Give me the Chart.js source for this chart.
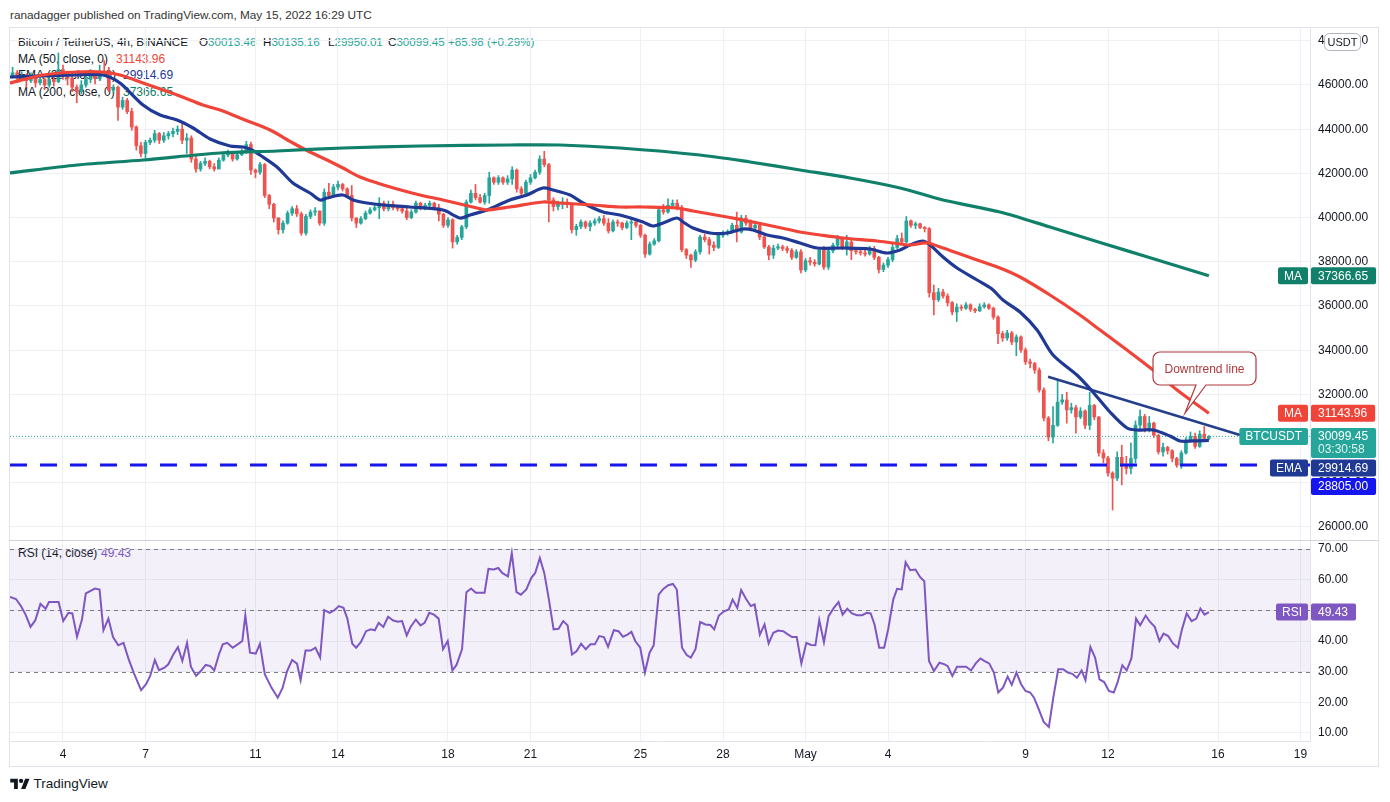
<!DOCTYPE html>
<html>
<head>
<meta charset="utf-8">
<script src="https://cdn.jsdelivr.net/npm/chart.js@4.4.1/dist/chart.umd.min.js"></script>
<style>
  body { margin: 0; width: 1390px; height: 802px; overflow: hidden; background: #fff;
         font-family: 'Liberation Sans', Arial, sans-serif; color: #131722; }
  .t { position: absolute; white-space: nowrap; font-size: 12px; line-height: 14px; }
  .s { font-size: 11.6px; }
  .up { color: #26a69a; }
  #frame { position: absolute; left: 9px; top: 27px; width: 1370px; height: 740px;
           border: 1px solid #e0e3eb; box-sizing: border-box; }
  #sep { position: absolute; left: 9px; top: 540px; width: 1370px; height: 1px; background: #d1d4dc; }
  canvas { position: absolute; }
  #price { left: 10px; top: 28px; }
  #rsi { left: 10px; top: 541px; }
</style>
</head>
<body>
<div class="t" style="left:10px;top:7px;font-size:11.8px;line-height:16px;color:#333">ranadagger published on TradingView.com, May 15, 2022 16:29 UTC</div>
<div id="frame"></div>
<div id="sep"></div>

<div class="t s" style="left:18px;top:35px">Bitcoin / TetherUS, 4h, BINANCE</div>
<div class="t s" style="left:199px;top:35px">O<span class="up">30013.46</span></div>
<div class="t s" style="left:263px;top:35px">H<span class="up">30135.16</span></div>
<div class="t s" style="left:328px;top:35px">L<span class="up">29950.01</span></div>
<div class="t s" style="left:388px;top:35px">C<span class="up">30099.45</span> <span class="up">+85.98 (+0.29%)</span></div>
<div class="t" style="left:18px;top:52px">MA (50, close, 0)</div>
<div class="t" style="left:116px;top:52px;color:#f04438">31143.96</div>
<div class="t" style="left:18px;top:68px">EMA (20, close, 0)</div>
<div class="t" style="left:123px;top:68px;color:#1f3995">29914.69</div>
<div class="t" style="left:18px;top:85px">MA (200, close, 0)</div>
<div class="t" style="left:123px;top:85px;color:#11806a">37366.65</div>
<div class="t" style="left:18px;top:546px">RSI (14, close)</div>
<div class="t" style="left:101px;top:546px;color:#7e57c2">49.43</div>

<canvas id="price" width="1368" height="512"></canvas>
<canvas id="rsi" width="1368" height="225"></canvas>

<div class="t" style="left:10px;top:776px;font-size:13.5px;line-height:16px">
  <svg width="20" height="13" viewBox="0 0 36 24" style="vertical-align:-2px"><path d="M14 22H7V10H0V3h14v19zM28 22h-8l7.5-19h8L28 22z" fill="#131722"/><circle cx="20" cy="7" r="4" fill="#131722"/></svg>
  TradingView
</div>

<script>
// 4h candles, first one Apr 2 00:00, six per day. Day numbers count April days (May 1 = 31).
const firstCandleDay = 2;
const firstOpen = 46300;

const closes = [
  46400, 46550, 46300, 46450, 46200, 46350, 46100, 46250, 46000, 46250,
  46150, 46700, 46500, 46300, 45900, 45700, 46000, 46250, 46450, 46300,
  46600, 46550, 45770, 45900, 45000, 45300, 44800, 44100, 43250, 42900,
  43400, 43500, 43800, 43500, 43700, 43800, 43900, 44000, 43500, 43600,
  42650, 42200, 42450, 42550, 42300, 42200, 42600, 42830, 42950, 42650,
  42850, 42980, 43300, 42150, 42050, 42400, 41000, 40600, 39980, 39450,
  39750, 40200, 40400, 40170, 39300, 40050, 40250, 40300, 39750, 41150,
  41000, 41380, 41500, 41300, 41000, 39980, 39750, 39950, 40200, 40350,
  40450, 40650, 40400, 40600, 40450, 40400, 40300, 40000, 40250, 40650,
  40450, 40550, 40650, 40450, 40150, 39650, 39900, 38900, 39100, 39580,
  40700, 41100, 40900, 40700, 41000, 41800, 41600, 41800, 41600, 41750,
  42150, 41300, 41100, 41600, 41800, 42050, 42650, 42400, 40800, 40500,
  40600, 40700, 40600, 39450, 39600, 39800, 39600, 39750, 39850, 39950,
  39750, 39400, 39800, 39750, 39550, 39750, 39800, 39650, 39200, 38350,
  38800, 38950, 40350, 40250, 40550, 40650, 40450, 38550, 38300, 38080,
  38450, 39120, 39000, 38750, 38650, 39200, 39300, 39350, 39650, 39350,
  39980, 39750, 39530, 39650, 39120, 38670, 38300, 38620, 38680, 38600,
  38520, 38200, 38450, 37630, 38050, 37980, 37900, 38530, 37760, 38500,
  38750, 39050, 38650, 38900, 38500, 38450, 38400, 38350, 38600, 38200,
  37650, 37850, 38100, 38650, 39050, 38900, 39850, 39650, 39720, 39550,
  39500, 36600, 36280, 36630, 36450, 36150, 35730, 35950, 35900, 36050,
  35850, 35780, 35970, 36050, 35900, 35500, 34750, 34550, 34780, 34370,
  34600, 34010, 33470, 33400, 33100, 32200, 30930, 30070, 30600, 31650,
  31750, 31300, 31400, 30980, 31250, 30600, 31500, 30980, 29350, 29120,
  28440, 28210, 29150, 28750, 28650, 29100, 30610, 31000, 30500, 30700,
  30150, 29400, 29600, 29450, 29100, 28800, 29350, 29930, 30100, 29650,
  30200, 30013.46, 30099.45
];
const highs = [
  46700, 46800, 46650, 46600, 46500, 46550, 46400, 46450, 46300, 46400,
  46350, 47450, 46900, 46600, 46350, 46000, 46200, 46500, 46700, 46600,
  46900, 47100, 46800, 46000, 45950, 45450, 45400, 44950, 44150, 43400,
  43500, 43600, 43950, 43850, 43850, 43900, 44050, 44150, 44250, 43800,
  43700, 42800, 42550, 42700, 42600, 42450, 42700, 42950, 43050, 43000,
  42950, 43100, 43450, 43420, 42200, 42500, 42450, 41050, 40650, 40000,
  39850, 40300, 40500, 40550, 40250, 40150, 40350, 40450, 40300, 41300,
  41550, 41500, 41650, 41550, 41350, 41450, 40000, 40050, 40300, 40450,
  40550, 40900, 40750, 40750, 40750, 40550, 40500, 40450, 40350, 40750,
  40700, 40650, 40750, 40700, 40600, 40200, 40000, 39950, 39200, 39650,
  40800, 41250, 41500, 41050, 41100, 42050, 41850, 41900, 41850, 41900,
  42300, 42200, 41400, 41700, 41950, 42150, 42800, 43000, 42450, 40900,
  40750, 40900, 40850, 40650, 39700, 39900, 39850, 39850, 39950, 40050,
  40100, 39950, 39900, 39900, 39800, 39850, 40000, 39850, 39700, 39250,
  38900, 39050, 40500, 40600, 40850, 40800, 40800, 40550, 38600, 38350,
  38550, 39200, 39250, 39100, 38900, 39300, 39400, 39450, 39750, 40250,
  40100, 40100, 39900, 39800, 39750, 39200, 38750, 38750, 38800, 38750,
  38700, 38600, 38550, 38550, 38150, 38200, 38100, 38650, 38700, 38650,
  38850, 39200, 39100, 39200, 39000, 38650, 38600, 38600, 38700, 38700,
  38250, 37950, 38200, 38800, 39200, 39300, 40050, 39900, 39800, 39750,
  39600, 39550, 36950, 36800, 36750, 36550, 36200, 36100, 36050, 36150,
  36100, 35900, 36100, 36150, 36100, 35950, 35550, 34850, 34900, 34850,
  34700, 34650, 34100, 33600, 33450, 33200, 32300, 31000, 31450, 32650,
  32000, 32100, 31600, 31500, 31400, 31300, 32100, 31550, 31000, 29500,
  29200, 28500, 29400, 29700, 29200, 29800, 30800, 31300, 31100, 31000,
  30750, 30200, 29800, 29650, 29500, 29150, 29450, 30050, 30300, 30250,
  30350, 30550, 30135.16
];
const lows = [
  46200, 46300, 46100, 46200, 45900, 46100, 45900, 46000, 45800, 45900,
  45950, 46100, 46250, 46000, 45700, 45200, 45600, 45900, 46100, 46050,
  46200, 46400, 45700, 45650, 44400, 44900, 44700, 43950, 43050, 42750,
  42700, 43300, 43400, 43350, 43400, 43550, 43650, 43750, 43350, 42900,
  42500, 42050, 42100, 42350, 42200, 42100, 42200, 42550, 42750, 42550,
  42600, 42800, 42900, 41950, 41800, 41950, 40900, 40400, 39800, 39250,
  39300, 39700, 40100, 40050, 39200, 39200, 39950, 40100, 39650, 39650,
  40900, 40900, 41250, 41200, 40900, 39850, 39550, 39700, 39900, 40150,
  40300, 39950, 40300, 40300, 40350, 40300, 40200, 39900, 39950, 40200,
  40350, 40350, 40450, 40350, 39850, 39550, 39550, 38620, 38800, 39000,
  39500, 40650, 40800, 40650, 40600, 40650, 41500, 41500, 41500, 41500,
  41500, 41150, 40950, 41000, 41500, 41750, 41950, 42300, 39800, 40300,
  40350, 40400, 40450, 39300, 39200, 39500, 39500, 39400, 39650, 39750,
  39650, 39300, 39350, 39600, 39450, 39500, 39000, 39550, 39100, 38200,
  38300, 38750, 38900, 40150, 40200, 40450, 40350, 38450, 38150, 37750,
  38000, 38350, 38900, 38350, 38500, 38600, 39100, 39200, 39300, 38900,
  39300, 39650, 39400, 39450, 39000, 38600, 38100, 38150, 38550, 38500,
  38400, 38100, 38150, 37500, 37550, 37850, 37800, 37850, 37650, 37650,
  38400, 38600, 38550, 38300, 38100, 38350, 38300, 38250, 38300, 38100,
  37500, 37550, 37750, 38000, 38600, 38800, 38850, 39550, 39500, 39500,
  39350, 36400, 35600, 36200, 36350, 36000, 35600, 35300, 35800, 35850,
  35750, 35700, 35750, 35900, 35850, 35400, 34300, 34400, 34450, 34250,
  33750, 33900, 33350, 33200, 32950, 32100, 30800, 29900, 29800, 30550,
  31550, 30700, 31150, 30250, 30900, 30450, 30400, 30850, 29200, 28900,
  28300, 26770, 28100, 27900, 28400, 28400, 28900, 30400, 30300, 30300,
  30050, 29300, 29200, 29300, 28950, 28700, 28650, 29300, 29850, 29550,
  29600, 29900, 29950.01
];

// moving averages (day, value)
const ema20Days = [2.07, 4.51, 5.45, 6.07, 6.91, 7.53, 8.15, 8.73, 9.35, 10.07, 10.55, 10.87, 11.16, 11.78,
  12.36, 12.98, 13.35, 13.6, 14.18, 14.55, 15.05, 15.64, 16.62, 17.82, 18.44, 18.8, 19.42, 20.25, 20.87,
  21.45, 21.82, 22.44, 22.91, 23.64, 24.25, 25.09, 25.45, 25.82, 26.33, 26.55, 26.91, 27.53, 28.15, 28.73,
  29.09, 29.6, 30.18, 30.8, 31.42, 32.36, 33.35, 33.96, 34.44, 34.8, 35.27, 35.53, 36, 36.51, 37.24, 37.78,
  38.18, 38.8, 39.42, 40, 40.87, 41.45, 42.07, 42.69, 43.05, 43.64, 44.25, 44.62, 45.09, 45.667];
const ema20 = [46362, 46452, 46452, 46090, 45095, 44642, 44416, 44054, 43556, 43240, 43195, 43059, 42833, 42290,
  41566, 41113, 40796, 40887, 41023, 40796, 40660, 40570, 40480, 40344, 39982, 40118, 40344, 40796, 41023,
  41339, 41249, 41023, 40660, 40253, 40118, 39801, 39620, 39756, 39982, 39801, 39529, 39303, 39303, 39484,
  39439, 39213, 39077, 38851, 38624, 38624, 38579, 38398, 38534, 38760, 38941, 38760, 38217, 37719, 37176, 36769,
  36271, 35728, 34914, 33782, 32877, 32108, 31203, 30479, 30389, 30389, 30118, 29892, 29892, 29914.69];

const ma50Days = [2.07, 3.27, 4.51, 5.45, 6.07, 6.91, 8.15, 9.09, 9.71, 10.62, 11.53, 12.36, 12.98, 13.6, 14.18,
  14.8, 15.42, 16.15, 16.98, 17.82, 19.05, 19.42, 20.25, 21.45, 22.07, 23.27, 24.25, 25.09, 26.33, 26.91,
  28.15, 29.09, 29.96, 30.8, 31.53, 32.36, 33.6, 34.18, 34.8, 35.42, 36, 37.24, 38.07, 38.8, 39.89, 40.98,
  41.71, 42.69, 43.64, 44.51, 45.667];
const ma50 = [46090, 46452, 46588, 46588, 46452, 46090, 45548, 45095, 44869, 44416, 43964, 43376, 42968, 42606, 42244,
  41837, 41566, 41294, 41023, 40796, 40434, 40344, 40480, 40706, 40660, 40570, 40480, 40480, 40434, 40299,
  40027, 39801, 39574, 39348, 39213, 39077, 38941, 38851, 38760, 38851, 38624, 38081, 37719, 37312, 36498, 35593,
  34914, 34009, 33104, 32199, 31143.96];

const ma200Days = [2.07, 4.51, 6.91, 9.71, 11.78, 14.18, 16.98, 20.25, 22.07, 24.25, 27.16, 28.98, 30.8, 32.62,
  34.44, 36, 38.07, 39.89, 41.71, 43.53, 45.667];
const ma200 = [42018, 42380, 42606, 42923, 43014, 43149, 43240, 43285, 43285, 43149, 42833, 42516, 42154, 41792,
  41339, 40796, 40253, 39575, 38873, 38181, 37366.65];

const trendDays = [39.82, 46.8];
const trendPrices = [32800, 30162];
const supportLevel = 28805;
const lastPrice = 30099.45;

const rsiDays = [2.07, 2.29, 2.47, 2.64, 2.82, 2.99, 3.18, 3.37, 3.49, 3.66, 3.84, 4.01, 4.2, 4.34, 4.51, 4.69,
  4.83, 5.16, 5.33, 5.47, 5.65, 5.82, 6.01, 6.2, 6.39, 6.57, 6.84, 7.02, 7.17, 7.34, 7.49, 7.69, 7.83, 8.01,
  8.18, 8.34, 8.51, 8.65, 8.84, 9.01, 9.19, 9.36, 9.5, 9.67, 9.81, 9.97, 10.17, 10.35, 10.52, 10.63, 10.8,
  11.01, 11.16, 11.34, 11.58, 11.81, 11.98, 12.15, 12.33, 12.51, 12.64, 12.82, 13.01, 13.18, 13.35, 13.5,
  13.7, 13.88, 14.03, 14.2, 14.34, 14.52, 14.66, 14.83, 15.02, 15.19, 15.34, 15.48, 15.65, 15.82, 16.01,
  16.18, 16.33, 16.5, 16.64, 16.83, 17.0, 17.15, 17.32, 17.49, 17.66, 17.82, 17.99, 18.16, 18.31, 18.51,
  18.67, 18.84, 19.01, 19.33, 19.47, 19.66, 19.83, 19.97, 20.18, 20.32, 20.49, 20.65, 20.85, 21.03, 21.17,
  21.34, 21.5, 21.67, 21.84, 22.02, 22.19, 22.35, 22.51, 22.68, 22.84, 23.01, 23.18, 23.34, 23.5, 23.67, 23.82,
  24.03, 24.2, 24.36, 24.53, 24.67, 24.81, 24.99, 25.16, 25.33, 25.48, 25.66, 25.83, 26.01, 26.18, 26.32,
  26.51, 26.68, 26.83, 27.0, 27.17, 27.36, 27.54, 27.68, 27.85, 28.04, 28.21, 28.35, 28.52, 28.66, 28.84,
  29.01, 29.15, 29.34, 29.51, 29.66, 29.83, 30.0, 30.19, 30.37, 30.51, 30.68, 30.85, 31.03, 31.2, 31.36,
  31.5, 31.67, 31.84, 32.03, 32.2, 32.35, 32.52, 32.69, 32.87, 33.06, 33.23, 33.37, 33.51, 33.68, 33.86,
  34.01, 34.19, 34.33, 34.5, 34.64, 34.81, 35.0, 35.17, 35.32, 35.49, 35.67, 35.87, 36.06, 36.17, 36.34,
  36.51, 36.69, 36.84, 37.02, 37.19, 37.36, 37.5, 37.68, 37.85, 38.01, 38.18, 38.35, 38.5, 38.67, 38.84,
  39.0, 39.17, 39.31, 39.48, 39.66, 39.85, 40.02, 40.19, 40.37, 40.54, 40.7, 40.87, 41.04, 41.18, 41.36,
  41.53, 41.69, 41.86, 42.03, 42.21, 42.35, 42.52, 42.68, 42.85, 43.02, 43.17, 43.37, 43.53, 43.7, 43.87,
  44.02, 44.19, 44.36, 44.54, 44.69, 44.86, 45.04, 45.21, 45.36, 45.51, 45.67];
const rsiValues = [54.4, 53.7, 51.4, 48.6, 44.6, 46.7, 52.1, 50.5, 52.7, 52.7, 52.7, 46.5, 49.2, 49.0, 41.4, 47.0,
  55.5, 57.1, 56.8, 43.5, 47.3, 41.3, 38.6, 39.4, 34.0, 29.7, 24.0, 25.9, 28.6, 33.8, 30.5, 31.3, 32.4, 35.6,
  38.0, 33.5, 39.4, 31.6, 28.6, 30.2, 32.2, 31.8, 30.4, 35.6, 38.9, 39.4, 37.8, 38.9, 40.0, 48.4, 36.2,
  35.9, 39.1, 29.1, 24.8, 21.5, 24.6, 30.2, 33.8, 32.6, 27.2, 36.9, 36.9, 37.8, 34.6, 50.1,
  49.2, 50.1, 51.4, 50.8, 47.3, 39.1, 37.8, 39.6, 43.2, 43.8, 43.5, 45.9, 44.6, 47.9, 46.7,
  46.3, 46.5, 41.8, 44.6, 47.0, 45.1, 45.9, 49.2, 48.6, 47.3, 37.3, 40.0, 30.4, 32.2, 37.3,
  55.9, 57.1, 55.7, 55.7, 63.5, 63.3, 63.8, 62.2, 61.1, 68.7, 55.9, 55.1, 56.8, 60.6, 62.2,
  67.1, 62.2, 53.5, 43.8, 44.0, 46.5, 45.1, 35.6, 36.7, 39.1, 37.3, 38.9, 38.9, 41.6, 41.3, 38.1,
  43.5, 43.2, 41.4, 42.1, 43.0, 40.0, 37.8, 29.7, 36.2, 38.6, 55.1, 57.0, 58.2, 58.6, 56.8,
  37.8, 35.4, 34.6, 37.3, 46.2, 45.4, 45.2, 43.8, 48.3, 49.7, 50.3, 53.5, 50.8, 56.6, 53.7,
  51.4, 51.9, 42.1, 45.4, 39.2, 42.7, 43.4, 43.2, 42.1, 41.3, 41.3, 32.7, 39.4, 38.7, 38.6,
  46.8, 39.6, 48.1, 50.8, 52.7, 48.6, 50.5, 49.0, 48.4, 48.4, 49.2, 49.0, 45.4, 37.8, 37.8,
  44.0, 53.5, 57.0, 56.8, 65.7, 63.1, 63.3, 60.8, 59.5, 33.5, 30.2, 32.9, 32.4, 31.8, 28.6,
  31.6, 31.6, 31.6, 30.4, 32.7, 34.3, 33.5, 32.7, 29.7, 23.2, 24.8, 28.4, 25.7, 29.7, 25.9,
  23.7, 23.2, 21.5, 17.8, 13.6, 12.0, 22.1, 30.8, 30.8, 29.7, 29.3, 28.0, 30.4, 27.2, 38.0,
  34.6, 27.5, 26.6, 23.7, 23.2, 26.6, 32.1, 30.4, 34.3, 47.3, 45.1, 48.3, 46.2, 44.6, 40.0,
  42.4, 41.6, 39.2, 37.8, 43.8, 49.0, 46.5, 47.3, 50.6, 48.6, 49.43];

const priceTicks = [26000, 28000, 30000, 32000, 34000, 36000, 38000, 40000, 42000, 44000, 46000, 48000];
const rsiTicks = [10, 20, 30, 40, 50, 60, 70];
const dayTicks = [4, 7, 11, 14, 18, 21, 25, 28, 31, 34, 39, 42, 46, 49];
const dayLabels = ['4', '7', '11', '14', '18', '21', '25', '28', 'May', '4', '9', '12', '16', '19'];

const font = "'Liberation Sans', Arial, sans-serif";
const up = '#26a69a', down = '#ef5350';
const emaColor = '#1f3995', ma50Color = '#f04438', ma200Color = '#11806a';
const supportColor = '#1515ee', rsiColor = '#7e57c2';
const gridColor = '#eef0f4', lineColor = '#e0e3eb';

Chart.defaults.font.family = font;
Chart.defaults.font.size = 12;
Chart.defaults.color = '#131722';

const opens = closes.map((c, i) => i === 0 ? firstOpen : closes[i - 1]);
const candleDays = closes.map((c, i) => firstCandleDay + i / 6);
const candleColors = closes.map((c, i) => c >= opens[i] ? up : down);

function last(arr) { return arr[arr.length - 1]; }

function dayAxis(showLabels) {
  return {
    type: 'linear', min: 2.073, max: 49.345, offset: false,
    afterBuildTicks: s => { s.ticks = dayTicks.map(v => ({ value: v })); },
    grid: { color: gridColor, drawTicks: false, offset: false },
    border: { display: showLabels, color: lineColor },
    ticks: { display: showLabels, padding: 6, autoSkip: false, maxRotation: 0,
             callback: (v, i) => dayLabels[i] },
    afterFit: s => { s.height = showLabels ? 25 : 0; s.paddingLeft = 0; s.paddingRight = 0; }
  };
}

function valueAxis(min, max, ticks) {
  return {
    position: 'right', min, max,
    afterBuildTicks: s => { s.ticks = ticks.map(v => ({ value: v })); },
    grid: { color: gridColor, drawTicks: false },
    border: { display: true, color: lineColor },
    ticks: { padding: 8, callback: v => v.toFixed(2) },
    afterFit: s => { s.width = 68; s.paddingTop = 0; s.paddingBottom = 0; }
  };
}

function lineSet(days, vals, color, width, extra) {
  return Object.assign({
    type: 'line', data: days.map((d, i) => ({ x: d, y: vals[i] })),
    borderColor: color, borderWidth: width, pointRadius: 0, tension: 0.3, fill: false, order: 1
  }, extra || {});
}

function box(ctx, x, y, w, h, r) {
  ctx.beginPath();
  ctx.roundRect(x, y, w, h, r);
}

function drawTags(chart, tags) {
  const { ctx, chartArea } = chart;
  const yScale = chart.scales.y;
  ctx.save();
  ctx.font = '12px ' + font;
  ctx.textBaseline = 'middle';
  let prevBottom = -Infinity;
  tags.slice().sort((a, b) => b.value - a.value).forEach(tag => {
    const h = tag.sub ? 30 : 17;
    let top = yScale.getPixelForValue(tag.value) - 8.5;
    if (top < prevBottom + 1.5) top = prevBottom + 1.5;
    prevBottom = top + h;
    const text = tag.value.toFixed(2);
    const vw = ctx.measureText(text).width + 15;
    const x0 = chartArea.right + 1;
    ctx.fillStyle = tag.color;
    box(ctx, x0, top, vw, h, 2); ctx.fill();
    ctx.fillStyle = '#fff'; ctx.textAlign = 'left';
    ctx.fillText(text, x0 + 7, top + 9);
    if (tag.sub) {
      ctx.fillStyle = 'rgba(255,255,255,0.85)';
      ctx.fillText(tag.sub, x0 + 7, top + 22);
    }
    if (tag.label) {
      const lw = ctx.measureText(tag.label).width + 12;
      const lx = chartArea.right - 2 - lw;
      ctx.fillStyle = tag.color;
      box(ctx, lx, top, lw, 17, 2); ctx.fill();
      ctx.fillStyle = '#fff'; ctx.textAlign = 'center';
      ctx.fillText(tag.label, lx + lw / 2, top + 9);
    }
  });
  ctx.restore();
}

const priceTags = [
  { label: 'MA', value: last(ma200), color: ma200Color },
  { label: 'MA', value: last(ma50), color: ma50Color },
  { label: 'BTCUSDT', value: lastPrice, sub: '03:30:58', color: up },
  { label: 'EMA', value: last(ema20), color: emaColor },
  { label: null, value: supportLevel, color: supportColor }
];

// callout pointing at the trend line: anchor in data units, box in pixels around it
const note = { text: 'Downtrend line', day: 44.8, price: 31158 };

const calloutPlugin = {
  id: 'callout',
  afterDatasetsDraw(chart) {
    const { ctx } = chart;
    const ax = chart.scales.x.getPixelForValue(note.day);
    const ay = chart.scales.y.getPixelForValue(note.price);
    const L = ax - 32, R = ax + 71, T = ay - 61, B = ay - 28, r = 7;
    ctx.save();
    ctx.beginPath();
    ctx.moveTo(L + r, T);
    ctx.lineTo(R - r, T); ctx.arcTo(R, T, R, T + r, r);
    ctx.lineTo(R, B - r); ctx.arcTo(R, B, R - r, B, r);
    ctx.lineTo(ax + 21, B); ctx.lineTo(ax, ay); ctx.lineTo(ax + 11, B);
    ctx.lineTo(L + r, B); ctx.arcTo(L, B, L, B - r, r);
    ctx.lineTo(L, T + r); ctx.arcTo(L, T, L + r, T, r);
    ctx.closePath();
    ctx.fillStyle = 'rgba(255,255,255,0.95)';
    ctx.fill();
    ctx.strokeStyle = '#b0393c'; ctx.lineWidth = 1.2;
    ctx.stroke();
    ctx.fillStyle = '#b0393c';
    ctx.font = '12px ' + font;
    ctx.textAlign = 'center'; ctx.textBaseline = 'middle';
    ctx.fillText(note.text, (L + R) / 2, (T + B) / 2 + 1);
    ctx.restore();
  },
  afterDraw(chart) {
    drawTags(chart, priceTags);
    const { ctx, chartArea } = chart;
    ctx.save();
    ctx.fillStyle = '#fff'; ctx.strokeStyle = '#b2b5be'; ctx.lineWidth = 1;
    box(ctx, chartArea.right + 14.5, 5.5, 36, 17, 5); ctx.fill(); ctx.stroke();
    ctx.fillStyle = '#131722'; ctx.font = '11px ' + font;
    ctx.textAlign = 'center'; ctx.textBaseline = 'middle';
    ctx.fillText('USDT', chartArea.right + 32.5, 14.5);
    ctx.restore();
  }
};

new Chart(document.getElementById('price'), {
  type: 'bar',
  data: {
    datasets: [
      { type: 'bar', order: 11, grouped: false, barThickness: 1, backgroundColor: candleColors,
        data: candleDays.map((d, i) => ({ x: d, y: [Math.min(lows[i], opens[i], closes[i]), Math.max(highs[i], opens[i], closes[i])] })) },
      { type: 'bar', order: 10, grouped: false, barThickness: 3, minBarLength: 1, backgroundColor: candleColors,
        data: candleDays.map((d, i) => ({ x: d, y: [opens[i], closes[i]] })) },
      lineSet(ma200Days, ma200, ma200Color, 3.2),
      lineSet(ma50Days, ma50, ma50Color, 3.2),
      lineSet(ema20Days, ema20, emaColor, 3.2),
      lineSet(trendDays, trendPrices, '#243f8c', 2.5, { tension: 0 }),
      lineSet([2.073, 49.345], [supportLevel, supportLevel], supportColor, 3, { tension: 0, borderDash: [17, 13] }),
      lineSet([2.073, 49.345], [lastPrice, lastPrice], up, 1, { tension: 0, borderDash: [1, 2] })
    ]
  },
  options: {
    responsive: false, animation: false,
    layout: { padding: 0 },
    plugins: { legend: { display: false }, tooltip: { enabled: false } },
    scales: { x: dayAxis(false), y: valueAxis(25411, 48579, priceTicks) }
  },
  plugins: [calloutPlugin]
});

const rsiPlugin = {
  id: 'rsiBand',
  beforeDatasetsDraw(chart) {
    const { ctx, chartArea } = chart;
    const y = chart.scales.y;
    ctx.save();
    ctx.fillStyle = 'rgba(126, 87, 194, 0.09)';
    ctx.fillRect(chartArea.left, y.getPixelForValue(70), chartArea.width,
                 y.getPixelForValue(30) - y.getPixelForValue(70));
    ctx.strokeStyle = '#787b86'; ctx.lineWidth = 1; ctx.setLineDash([4, 4]);
    [70, 50, 30].forEach(v => {
      const py = Math.round(y.getPixelForValue(v)) + 0.5;
      ctx.beginPath(); ctx.moveTo(chartArea.left, py); ctx.lineTo(chartArea.right, py); ctx.stroke();
    });
    ctx.restore();
  },
  afterDraw(chart) {
    drawTags(chart, [{ label: 'RSI', value: last(rsiValues), color: rsiColor }]);
  }
};

new Chart(document.getElementById('rsi'), {
  type: 'line',
  data: {
    datasets: [lineSet(rsiDays, rsiValues, rsiColor, 2, { tension: 0 })]
  },
  options: {
    responsive: false, animation: false,
    layout: { padding: 0 },
    plugins: { legend: { display: false }, tooltip: { enabled: false } },
    scales: { x: dayAxis(true), y: valueAxis(7.39, 72.61, rsiTicks) }
  },
  plugins: [rsiPlugin]
});
</script>
</body>
</html>
